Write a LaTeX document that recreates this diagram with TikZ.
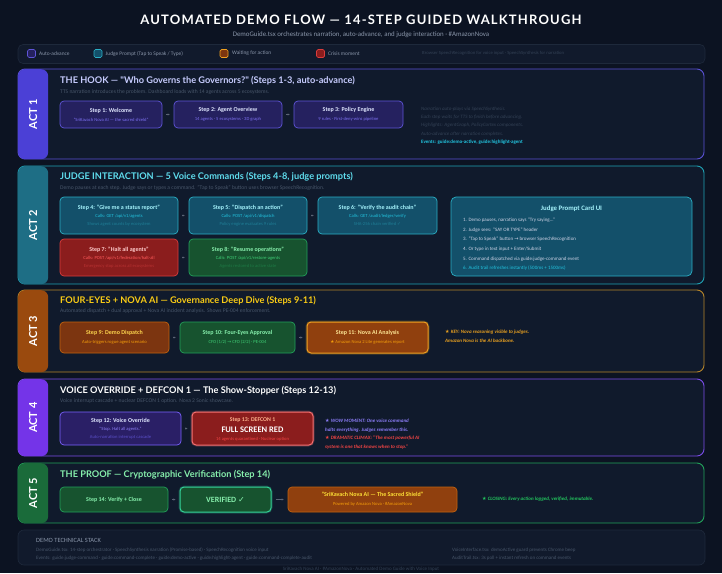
\documentclass[tikz,border=0pt]{standalone}
\usepackage{fontspec}
\setmainfont{Carlito}
\newfontfamily\hf{Lato}
\newfontfamily\symf{DejaVu Sans}
\usetikzlibrary{arrows.meta}
\newcommand\starsym{{\symf\char"2605}}
\newcommand\rarr{{\symf\char"2192}}
\newcommand\chk{{\symf\char"2713}}
\definecolor{bg}{HTML}{0C1322}
\definecolor{panel}{HTML}{101A2C}
\definecolor{legfill}{HTML}{111A2C}
\definecolor{legline}{HTML}{1E293B}
\definecolor{gtext}{HTML}{8A96AA}
\definecolor{dtext}{HTML}{475569}
\definecolor{ddtext}{HTML}{334155}
% act1
\definecolor{aAbord}{HTML}{5B52D6}
\definecolor{aAband}{HTML}{4B40D6}
\definecolor{aAtitle}{HTML}{C7CCFE}
\definecolor{aAfill}{HTML}{25215F}
\definecolor{aAsbord}{HTML}{5F55D8}
\definecolor{aAstt}{HTML}{E0E7FF}
\definecolor{aAsub}{HTML}{7C6FF0}
% act2
\definecolor{aBbord}{HTML}{1FA3B5}
\definecolor{aBband}{HTML}{1E6E85}
\definecolor{aBtitle}{HTML}{5FDDEE}
\definecolor{aBfill}{HTML}{13506A}
\definecolor{aBsbord}{HTML}{2BB0C6}
\definecolor{aBstt}{HTML}{A5F3FC}
\definecolor{aBsub}{HTML}{22C3DE}
\definecolor{aBthird}{HTML}{1F7E96}
% red / green / orange
\definecolor{rfill}{HTML}{8B1D1D}
\definecolor{rbord}{HTML}{D93C3C}
\definecolor{rtt}{HTML}{FECACA}
\definecolor{rsub}{HTML}{FF5A5A}
\definecolor{rthird}{HTML}{B83232}
\definecolor{gfill}{HTML}{17532F}
\definecolor{gbord}{HTML}{22A05A}
\definecolor{gtt}{HTML}{86EFAC}
\definecolor{gsub}{HTML}{3FCF76}
\definecolor{gthird}{HTML}{1E7A45}
\definecolor{ofill}{HTML}{7C3510}
\definecolor{obord}{HTML}{C2620E}
\definecolor{obright}{HTML}{F0A020}
\definecolor{ott}{HTML}{FCD34D}
\definecolor{osub}{HTML}{F59E0B}
% act3
\definecolor{aCbord}{HTML}{B7862A}
\definecolor{aCband}{HTML}{9A4A0E}
\definecolor{aCtitle}{HTML}{FACC15}
\definecolor{aCnote}{HTML}{E8A020}
% act4
\definecolor{aDbord}{HTML}{7C4DEB}
\definecolor{aDband}{HTML}{7434E8}
\definecolor{aDfill}{HTML}{2A1F66}
\definecolor{aDsbord}{HTML}{7B61FF}
\definecolor{aDsub}{HTML}{8B7CF6}
\definecolor{aDthird}{HTML}{5B4FC9}
\definecolor{rbright}{HTML}{F87171}
\definecolor{rnote}{HTML}{EF4444}
% act5
\definecolor{aEbord}{HTML}{22A35A}
\definecolor{aEband}{HTML}{1A6B3A}
\definecolor{gnote}{HTML}{22C55E}
\definecolor{gbright}{HTML}{34D399}
\definecolor{arrowc}{HTML}{5B6475}
\tikzset{
  actbox/.style={draw=#1, line width=0.9pt, rounded corners=7pt, fill=panel, inner sep=0pt, minimum width=686pt},
  bandbox/.style={fill=#1, rounded corners=7pt, inner sep=0pt, minimum width=30pt, anchor=north west},
  acttxt/.style={rotate=90, text=white, font=\hf\bfseries\fontsize{11}{12}\selectfont},
  acttitle/.style={anchor=west, inner sep=0pt, font=\hf\bfseries\fontsize{9.2}{11}\selectfont},
  actsub/.style={anchor=west, inner sep=0pt, text=dtext, font=\fontsize{5.6}{7}\selectfont},
  stepbox/.style={draw, rounded corners=4pt, line width=0.7pt, align=center, inner sep=0pt, font=\fontsize{6}{9}\selectfont\bfseries},
  stepboxB/.style={stepbox, font=\fontsize{6}{8}\selectfont\bfseries},
  conn/.style={-{Stealth[length=2pt,width=2pt]}, draw=arrowc, line width=0.5pt, shorten >=4pt, shorten <=4pt},
  note/.style={anchor=west, inner sep=0pt, align=left, font=\fontsize{5}{8.3}\selectfont\itshape},
  legsq/.style={draw=#1, line width=0.7pt, rounded corners=1.5pt, minimum size=8pt, inner sep=0pt},
  legtxt/.style={anchor=west, inner sep=0pt, text=gtext, font=\fontsize{5.4}{6}\selectfont},
}
\newcommand\ssub[2]{{\fontsize{4.6}{6}\selectfont\mdseries\color{#1}#2}}
\begin{document}
\begin{tikzpicture}[x=1pt,y=-1pt]
\fill[bg] (0,0) rectangle (722,573);
\useasboundingbox (0,0) rectangle (722,573);

% ---- header
\node[text=white, font=\hf\bfseries\fontsize{13}{15}\selectfont\addfontfeatures{LetterSpace=9}] (title) at (361,20) {AUTOMATED DEMO FLOW — 14-STEP GUIDED WALKTHROUGH};
\node[text=gtext, font=\fontsize{6.9}{8}\selectfont] (subtitle) at (361,35) {DemoGuide.tsx orchestrates narration, auto-advance, and judge interaction · \#AmazonNova};

% ---- legend
\node[draw=legline, fill=legfill, rounded corners=5pt, line width=0.6pt, minimum width=687pt, minimum height=19pt, inner sep=0pt] (legend) at (361.5,54) {};
\node[legsq=aAsbord, fill=aAfill] (lq1) at (31.5,53.5) {};
\node[legtxt] (lt1) at (39,53.5) {Auto-advance};
\node[legsq=aBsbord, fill=aBfill] (lq2) at (98,53.5) {};
\node[legtxt] (lt2) at (105.5,53.5) {Judge Prompt (Tap to Speak / Type)};
\node[legsq=obright, fill=ofill] (lq3) at (224,53.5) {};
\node[legtxt] (lt3) at (232,53.5) {Waiting for action};
\node[legsq=rbord, fill=rfill] (lq4) at (320.5,53.5) {};
\node[legtxt] (lt4) at (328,53.5) {Crisis moment};
\node[legtxt, text=ddtext, font=\fontsize{4.7}{6}\selectfont] (lt5) at (422,53.5) {Browser SpeechRecognition for voice input · SpeechSynthesis for narration};

% ================= ACT 1
\node[actbox=aAbord, minimum height=90pt] (act1) at (361,114) {};
\node[bandbox=aAband, minimum height=90pt] (band1) at (18,69) {};
\node[acttxt] (al1) at (band1.center) {ACT 1};
\node[acttitle, text=aAtitle] (t1) at (60,81) {THE HOOK — "Who Governs the Governors?" (Steps 1-3, auto-advance)};
\node[actsub] (u1) at (60,92) {TTS narration introduces the problem. Dashboard loads with 14 agents across 5 ecosystems.};
\node[stepbox, fill=aAfill, draw=aAsbord, text=aAstt, minimum width=102pt, minimum height=27pt] (s1) at (111,114.5) {Step 1: Welcome\\\ssub{aAsub}{"SriKavach Nova AI — the sacred shield"}};
\node[stepbox, fill=aAfill, draw=aAsbord, text=aAstt, minimum width=108pt, minimum height=27pt] (s2) at (228,114.5) {Step 2: Agent Overview\\\ssub{aAsub}{14 agents · 5 ecosystems · 3D graph}};
\node[stepbox, fill=aAfill, draw=aAsbord, text=aAstt, minimum width=109pt, minimum height=27pt] (s3) at (348.5,114.5) {Step 3: Policy Engine\\\ssub{aAsub}{9 rules · First-deny-wins pipeline}};
\draw[conn] (s1) -- (s2);
\draw[conn] (s2) -- (s3);
\node[note, text=ddtext, anchor=north west] (n1) at (421,106.5) {Narration auto-plays via SpeechSynthesis.\\Each step waits for TTS to finish before advancing.\\Highlights: AgentGraph, PolicyCortex components.\\Auto-advance after narration completes.\\{\upshape\bfseries\color{aBsub}Events: guide:demo-active, guide:highlight-agent}};

% ================= ACT 2
\node[actbox=aBbord, minimum height=118pt] (act2) at (361,225) {};
\node[bandbox=aBband, minimum height=118pt] (band2) at (18,166) {};
\node[acttxt] (al2) at (band2.center) {ACT 2};
\node[acttitle, text=aBtitle] (t2) at (60,177) {JUDGE INTERACTION — 5 Voice Commands (Steps 4-8, judge prompts)};
\node[actsub] (u2) at (60,188) {Demo pauses at each step. Judge says or types a command. "Tap to Speak" button uses browser SpeechRecognition.};
\node[stepboxB, fill=aBfill, draw=aBsbord, text=aBstt, minimum width=118pt, minimum height=37pt] (s4) at (119,215.5) {Step 4: "Give me a status report"\\\ssub{aBsub}{Calls: GET /api/v1/agents}\\\ssub{aBthird}{Shows agent counts by ecosystem}};
\node[stepboxB, fill=aBfill, draw=aBsbord, text=aBstt, minimum width=118pt, minimum height=37pt] (s5) at (248,215.5) {Step 5: "Dispatch an action"\\\ssub{aBsub}{Calls: POST /api/v1/dispatch}\\\ssub{aBthird}{Policy engine evaluates 9 rules}};
\node[stepboxB, fill=aBfill, draw=aBsbord, text=aBstt, minimum width=119pt, minimum height=37pt] (s6) at (377.5,215.5) {Step 6: "Verify the audit chain"\\\ssub{aBsub}{Calls: GET /audit/ledger/verify}\\\ssub{aBthird}{SHA-256 chain verified \chk}};
\node[stepboxB, fill=rfill, draw=rbord, text=rtt, minimum width=118pt, minimum height=37pt] (s7) at (119,257.5) {Step 7: "Halt all agents"\\\ssub{rsub}{Calls: POST /api/v1/federation/halt-all}\\\ssub{rthird}{Emergency stop across all ecosystems}};
\node[stepboxB, fill=gfill, draw=gbord, text=gtt, minimum width=118pt, minimum height=37pt] (s8) at (248,257.5) {Step 8: "Resume operations"\\\ssub{gsub}{Calls: POST /api/v1/restore-agents}\\\ssub{gthird}{Agents restored to active state}};
\draw[conn] (s4) -- (s5);
\draw[conn] (s5) -- (s6);
\draw[conn] (s7) -- (s8);
\node[draw=aBsbord, fill=aBfill, rounded corners=5pt, line width=0.7pt, minimum width=241pt, minimum height=79pt, inner sep=0pt] (card) at (571.5,236.5) {};
\node[text=aBstt, font=\fontsize{6.8}{8}\selectfont\bfseries] (cardt) at (571.5,209) {Judge Prompt Card UI};
\node[anchor=north west, inner sep=0pt, align=left, text=aAstt!80!gray, font=\fontsize{5}{9.6}\selectfont] (cardl) at (463,218) {1. Demo pauses, narration says "Try saying..."\\2. Judge sees: "SAY OR TYPE" header\\3. "Tap to Speak" button \rarr\ browser SpeechRecognition\\4. Or type in text input + Enter/Submit\\5. Command dispatched via guide:judge-command event\\{\color{aBsub}6. Audit trail refreshes instantly (500ms + 1500ms)}};

% ================= ACT 3
\node[actbox=aCbord, minimum height=82pt] (act3) at (361,331) {};
\node[bandbox=aCband, minimum height=82pt] (band3) at (18,290) {};
\node[acttxt] (al3) at (band3.center) {ACT 3};
\node[acttitle, text=aCtitle] (t3) at (60,301) {FOUR-EYES + NOVA AI — Governance Deep Dive (Steps 9-11)};
\node[actsub] (u3) at (60,311) {Automated dispatch + dual approval + Nova AI incident analysis. Shows PE-004 enforcement.};
\node[stepbox, fill=ofill, draw=obord, text=ott, minimum width=109pt, minimum height=31pt] (s9) at (114.5,337.5) {Step 9: Demo Dispatch\\\ssub{osub}{Auto-triggers rogue agent scenario}};
\node[stepbox, fill=gfill, draw=gbord, text=gtt, minimum width=115pt, minimum height=31pt] (s10) at (237.5,337.5) {Step 10: Four-Eyes Approval\\\ssub{gsub}{CFO (1/2) \rarr\ CFO (2/2) · PE-004}};
\node[draw=obright, line width=2pt, opacity=0.25, rounded corners=5pt, minimum width=122pt, minimum height=32pt, inner sep=0pt] (g11) at (367.5,337.5) {};
\node[stepbox, fill=ofill!85!orange, draw=obright, line width=1pt, text=ott!60!white, minimum width=121pt, minimum height=31pt] (s11) at (367.5,337.5) {Step 11: Nova AI Analysis\\\ssub{osub}{\starsym\ Amazon Nova 2 Lite generates report}};
\draw[conn] (s9) -- (s10);
\draw[conn] (s10) -- (s11);
\node[note, text=aCnote, font=\fontsize{5}{9}\selectfont\itshape\bfseries] (n3) at (445,336.5) {\starsym\ KEY: Nova reasoning visible to judges.\\Amazon Nova is the AI backbone.};

% ================= ACT 4
\node[actbox=aDbord, minimum height=77pt] (act4) at (361,417.5) {};
\node[bandbox=aDband, minimum height=77pt] (band4) at (18,379) {};
\node[acttxt] (al4) at (band4.center) {ACT 4};
\node[acttitle, text=white] (t4) at (60,391) {VOICE OVERRIDE + DEFCON 1 — The Show-Stopper (Steps 12-13)};
\node[actsub] (u4) at (60,401) {Voice interrupt cascade + nuclear DEFCON 1 option. Nova 2 Sonic showcase.};
\node[stepboxB, fill=aDfill, draw=aDsbord, text=aAstt, minimum width=121pt, minimum height=33pt] (s12) at (120.5,428.5) {Step 12: Voice Override\\\ssub{aDsub}{"Stop. Halt all agents."}\\\ssub{aDthird}{Auto-narration interrupt cascade}};
\node[draw=rbright, line width=2pt, opacity=0.25, rounded corners=5pt, minimum width=122pt, minimum height=34pt, inner sep=0pt] (g13) at (252.5,428.5) {};
\node[draw=rbright, fill=rfill, line width=1pt, rounded corners=4pt, minimum width=121pt, minimum height=33pt, inner sep=0pt, align=center] (s13) at (252.5,428.5) {};
\node[text=rtt!70!orange, font=\fontsize{5.8}{7}\selectfont\bfseries] (s13a) at (252.5,420) {Step 13: DEFCON 1};
\node[text=white, font=\fontsize{8.5}{10}\selectfont\bfseries] (s13b) at (252.5,429.5) {FULL SCREEN RED};
\node[text=rnote, font=\fontsize{4.6}{6}\selectfont] (s13c) at (252.5,439) {14 agents quarantined · Nuclear option};
\draw[conn] (s12) -- (s13);
\node[note, text=aDsub, font=\fontsize{5}{8.8}\selectfont\itshape\bfseries, anchor=north west] (n4) at (325,418.5) {\starsym\ WOW MOMENT: One voice command\\halts everything. Judges remember this.\\{\color{rnote}\starsym\ DRAMATIC CLIMAX: "The most powerful AI}\\{\color{rnote}system is one that knows when to stop."}};

% ================= ACT 5
\node[actbox=aEbord, minimum height=60pt] (act5) at (361,493) {};
\node[bandbox=aEband, minimum height=60pt] (band5) at (18,463) {};
\node[acttxt] (al5) at (band5.center) {ACT 5};
\node[acttitle, text=gtt] (t5) at (60,475) {THE PROOF — Cryptographic Verification (Step 14)};
\node[stepbox, fill=gfill, draw=gbord, text=gtt, minimum width=108pt, minimum height=25pt] (s14) at (114,499.5) {Step 14: Verify + Close};
\node[draw=gbright, line width=2pt, opacity=0.25, rounded corners=5pt, minimum width=92pt, minimum height=26pt, inner sep=0pt] (gv) at (225.5,499.5) {};
\node[stepbox, fill=gfill, draw=gbright, line width=1pt, text=gtt, minimum width=91pt, minimum height=25pt, font=\fontsize{8}{9}\selectfont\bfseries] (ver) at (225.5,499.5) {VERIFIED \chk};
\node[stepbox, fill=ofill!85!orange, draw=obord, text=ott!70!yellow, minimum width=169pt, minimum height=25pt] (sk) at (372.5,499.5) {"SriKavach Nova AI — The Sacred Shield"\\\ssub{osub}{Powered by Amazon Nova · \#AmazonNova}};
\draw[conn] (s14) -- (ver);
\draw[conn] (ver) -- (sk);
\node[note, text=gnote, font=\fontsize{5}{7}\selectfont\itshape\bfseries] (n5) at (482,499) {\starsym\ CLOSING: Every action logged, verified, immutable.};

% ================= FOOTER
\node[draw=legline, fill=legfill, rounded corners=6pt, line width=0.6pt, minimum width=687pt, minimum height=35pt, inner sep=0pt] (foot) at (361.5,547.5) {};
\node[anchor=west, inner sep=0pt, text=gtext, font=\fontsize{6.4}{8}\selectfont] (fh) at (36,540) {DEMO TECHNICAL STACK};
\node[anchor=north west, inner sep=0pt, align=left, text=dtext, font=\fontsize{5}{8.5}\selectfont] (fl) at (36,547.5) {DemoGuide.tsx: 14-step orchestrator · SpeechSynthesis narration (Promise-based) · SpeechRecognition voice input\\Events: guide:judge-command · guide:command-complete · guide:demo-active · guide:highlight-agent · guide:command-complete-audit};
\node[anchor=north west, inner sep=0pt, align=left, text=dtext, font=\fontsize{5}{8.5}\selectfont] (fr) at (452,547.5) {VoiceInterface.tsx: demoActive guard prevents Chrome beep\\AuditTrail.tsx: 3s poll + instant refresh on command events};
\node[text=ddtext, font=\fontsize{5}{6}\selectfont] (bot) at (361,569) {SriKavach Nova AI · \#AmazonNova · Automated Demo Guide with Voice Input};
\end{tikzpicture}
\end{document}
